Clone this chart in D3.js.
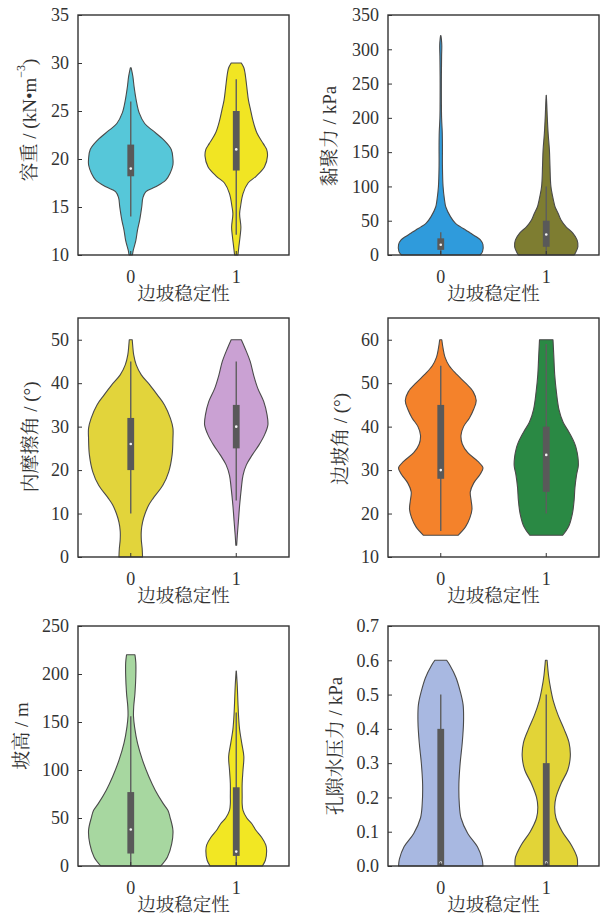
<!DOCTYPE html>
<html>
<head>
<meta charset="utf-8">
<script src="https://cdn.jsdelivr.net/npm/d3@7"></script>
<style>
  body { margin: 0; background: #fff; }
  svg { display: block; }
</style>
</head>
<body>
<svg id="chart" width="602" height="914"></svg>
<script>
// Slope stability (0 = unstable, 1 = stable) on the x axis of every panel
const categories = ["0", "1"];
const xTitle = "边坡稳定性";

// Each violin profile: [value, relative density], density 1 = widest violin of the panel.
// Each box: [lower whisker, Q1, median, Q3, upper whisker].

// 容重 (unit weight)
const unitWeightTicks = [10, 15, 20, 25, 30, 35];
const unitWeightColors = ["#56c7d9", "#f1e523"];
const unitWeight0 = [[10, 0.04], [10.5, 0.06], [11.5, 0.12], [12.6, 0.16], [13.6, 0.21], [15, 0.26], [16, 0.29], [16.6, 0.36], [17.1, 0.59], [17.8, 0.83], [18.5, 0.93], [19.4, 1.0], [20, 1.0], [21, 0.96], [22, 0.78], [23, 0.51], [23.7, 0.33], [24.8, 0.2], [26.1, 0.13], [27.5, 0.08], [28.6, 0.05], [29.5, 0.01]];
const unitWeight1 = [[10, 0.04], [10.8, 0.06], [11.9, 0.09], [12.9, 0.11], [14.3, 0.08], [15, 0.1], [16.4, 0.16], [17.5, 0.28], [18.2, 0.47], [19.2, 0.67], [20.3, 0.74], [21, 0.72], [21.6, 0.64], [22.7, 0.49], [24.1, 0.39], [25.1, 0.34], [26.1, 0.29], [27.5, 0.25], [28.9, 0.21], [29.5, 0.18], [30, 0.12]];
const unitWeightBox0 = [14, 18.2, 19.0, 21.5, 26];
const unitWeightBox1 = [12.1, 18.8, 21.0, 25.0, 28.3];

// 黏聚力 (cohesion)
const cohesionTicks = [0, 50, 100, 150, 200, 250, 300, 350];
const cohesionColors = ["#2f9bdc", "#7e7d31"];
const cohesion0 = [[0, 0.93], [5, 0.99], [15, 1.0], [22, 0.94], [27, 0.83], [32, 0.7], [36.5, 0.59], [41, 0.47], [46, 0.35], [56, 0.23], [70, 0.12], [80, 0.09], [100, 0.055], [130, 0.04], [160, 0.04], [180, 0.035], [200, 0.02], [250, 0.015], [290, 0.02], [305, 0.025], [315, 0.015], [320, 0.004]];
const cohesion1 = [[0, 0.66], [3, 0.69], [12, 0.75], [22, 0.73], [32, 0.63], [41, 0.47], [51, 0.35], [61, 0.28], [70, 0.21], [80, 0.17], [100, 0.11], [130, 0.088], [153, 0.075], [177, 0.045], [200, 0.025], [220, 0.012], [233, 0.002]];
const cohesionBox0 = [0, 7.5, 15, 24.3, 33];
const cohesionBox1 = [0, 12, 30, 50, 100];

// 内摩擦角 (internal friction angle)
const frictionTicks = [0, 10, 20, 30, 40, 50];
const frictionColors = ["#e2d43b", "#caa1d3"];
const friction0 = [[0, 0.28], [2, 0.27], [4, 0.25], [6, 0.25], [8, 0.28], [10, 0.34], [12, 0.43], [13.5, 0.53], [16.5, 0.76], [19.6, 0.9], [23.5, 0.98], [27.3, 1.0], [29.6, 1.0], [31.9, 0.94], [35, 0.8], [37.3, 0.63], [39.6, 0.45], [41.9, 0.25], [44.2, 0.13], [46.5, 0.07], [48.8, 0.045], [50, 0.035]];
const friction1 = [[2.7, 0.01], [5, 0.025], [8.1, 0.05], [11.9, 0.08], [15.8, 0.12], [18.8, 0.16], [21.2, 0.24], [23.5, 0.38], [25.8, 0.54], [28.1, 0.67], [30.4, 0.75], [32.7, 0.73], [35.8, 0.65], [38.8, 0.51], [41.9, 0.41], [45, 0.33], [48, 0.21], [50, 0.12]];
const frictionBox0 = [10, 20, 26, 32, 45];
const frictionBox1 = [13, 25, 30, 35, 45];

// 边坡角 (slope angle)
const slopeAngleTicks = [10, 20, 30, 40, 50, 60];
const slopeAngleColors = ["#f4822b", "#2a8944"];
const slopeAngle0 = [[15, 0.41], [17, 0.59], [19, 0.69], [21, 0.74], [23, 0.72], [25, 0.7], [27, 0.78], [29, 0.93], [30.5, 1.0], [32, 0.88], [34, 0.64], [36, 0.51], [38, 0.48], [40, 0.54], [42, 0.68], [44, 0.78], [46, 0.84], [48, 0.77], [50, 0.59], [52, 0.38], [54, 0.2], [56, 0.1], [58, 0.055], [60, 0.025]];
const slopeAngle1 = [[15, 0.39], [17, 0.53], [20, 0.62], [23, 0.66], [26, 0.68], [29, 0.72], [31, 0.76], [33, 0.75], [35, 0.71], [36.2, 0.67], [38, 0.58], [39.2, 0.51], [41, 0.4], [44, 0.3], [48, 0.24], [52, 0.2], [56, 0.18], [60, 0.16]];
const slopeAngleBox0 = [16, 28, 30, 45, 54];
const slopeAngleBox1 = [20, 25, 33.5, 40, 59];

// 坡高 (slope height)
const heightTicks = [0, 50, 100, 150, 200, 250];
const heightColors = ["#a7d7a0", "#f2e723"];
const height0 = [[0, 0.71], [9.4, 0.87], [23, 0.97], [37, 1.0], [51, 0.93], [58, 0.88], [65, 0.77], [79, 0.58], [93, 0.43], [110, 0.28], [128, 0.16], [145, 0.09], [156, 0.065], [166, 0.07], [180, 0.1], [198, 0.12], [212, 0.12], [220, 0.1]];
const height1 = [[0, 0.62], [6, 0.69], [16, 0.72], [22, 0.7], [30, 0.6], [37, 0.47], [44, 0.37], [50, 0.25], [58, 0.16], [65, 0.14], [72, 0.14], [86, 0.14], [100, 0.16], [114, 0.18], [128, 0.13], [142, 0.08], [156, 0.055], [170, 0.04], [187, 0.025], [203, 0.003]];
const heightBox0 = [0, 13, 38, 77, 156];
const heightBox1 = [0, 10.5, 15, 82, 160];

// 孔隙水压力 (pore water pressure)
const poreTicks = [0, 0.1, 0.2, 0.3, 0.4, 0.5, 0.6, 0.7];
const poreColors = ["#a8b8e1", "#e2d437"];
const pore0 = [[0, 1.0], [0.02, 0.98], [0.056, 0.87], [0.095, 0.64], [0.14, 0.48], [0.18, 0.44], [0.24, 0.43], [0.3, 0.46], [0.36, 0.51], [0.42, 0.54], [0.47, 0.53], [0.51, 0.46], [0.55, 0.36], [0.585, 0.22], [0.6, 0.14]];
const pore1 = [[0, 0.74], [0.025, 0.73], [0.06, 0.6], [0.1, 0.38], [0.14, 0.23], [0.172, 0.2], [0.2, 0.23], [0.24, 0.35], [0.28, 0.51], [0.32, 0.57], [0.36, 0.54], [0.4, 0.42], [0.44, 0.28], [0.48, 0.17], [0.52, 0.1], [0.555, 0.055], [0.6, 0.02]];
const poreBox0 = [0, 0, 0.01, 0.4, 0.5];
const poreBox1 = [0, 0, 0.01, 0.3, 0.5];

// ---- layout ----
const colLeft = [78, 388];
const plotW = 211;
const rowSpan = [[15, 255], [318, 557], [626, 866]];
const serif = "'Liberation Serif', 'Noto Sans CJK SC', serif";
const cjk = "'Liberation Serif', 'Noto Serif CJK SC', 'Noto Sans CJK SC', sans-serif";
const textColor = "#333";

const panels = [
  { title: ["容重 / (kN•m", "−3", ")"], domain: [10, 35], ticks: unitWeightTicks, fmt: d3.format("d"),
    colors: unitWeightColors, profiles: [unitWeight0, unitWeight1], boxes: [unitWeightBox0, unitWeightBox1],
    col: 0, row: 0, titlePos: [29, 120] },
  { title: ["黏聚力 / kPa"], domain: [0, 350], ticks: cohesionTicks, fmt: d3.format("d"),
    colors: cohesionColors, profiles: [cohesion0, cohesion1], boxes: [cohesionBox0, cohesionBox1],
    col: 1, row: 0, titlePos: [329, 136] },
  { title: ["内摩擦角 / (°)"], domain: [0, 55], ticks: frictionTicks, fmt: d3.format("d"),
    colors: frictionColors, profiles: [friction0, friction1], boxes: [frictionBox0, frictionBox1],
    col: 0, row: 1, titlePos: [30, 437] },
  { title: ["边坡角 / (°)"], domain: [10, 65], ticks: slopeAngleTicks, fmt: d3.format("d"),
    colors: slopeAngleColors, profiles: [slopeAngle0, slopeAngle1], boxes: [slopeAngleBox0, slopeAngleBox1],
    col: 1, row: 1, titlePos: [340, 439] },
  { title: ["坡高 / m"], domain: [0, 250], ticks: heightTicks, fmt: d3.format("d"),
    colors: heightColors, profiles: [height0, height1], boxes: [heightBox0, heightBox1],
    col: 0, row: 2, titlePos: [21, 736] },
  { title: ["孔隙水压力 / kPa"], domain: [0, 0.7], ticks: poreTicks, fmt: d3.format(".1f"),
    colors: poreColors, profiles: [pore0, pore1], boxes: [poreBox0, poreBox1],
    col: 1, row: 2, titlePos: [335, 746] }
];

const svg = d3.select("#chart");

panels.forEach(p => {
  const left = colLeft[p.col], right = left + plotW;
  const [top, bottom] = rowSpan[p.row];
  const x = d3.scaleBand().domain(categories).range([left, right]);
  const y = d3.scaleLinear().domain(p.domain).range([bottom, top]);
  const w = d3.scaleLinear().domain([0, 1]).range([0, x.bandwidth() * 0.4]);
  const g = svg.append("g");

  categories.forEach((c, i) => {
    const cx = x(c) + x.bandwidth() / 2;
    const area = d3.area()
      .y(d => y(d[0]))
      .x0(d => cx - w(d[1]))
      .x1(d => cx + w(d[1]))
      .curve(d3.curveCatmullRom.alpha(0.5));
    g.append("path")
      .attr("d", area(p.profiles[i]))
      .attr("fill", p.colors[i])
      .attr("stroke", "#4a4a4a")
      .attr("stroke-width", 1.1)
      .attr("stroke-linejoin", "round");

    const [wlo, q1, med, q3, whi] = p.boxes[i];
    g.append("line")
      .attr("x1", cx).attr("x2", cx)
      .attr("y1", y(wlo)).attr("y2", y(whi))
      .attr("stroke", "#5e5e5e").attr("stroke-width", 1.4);
    g.append("rect")
      .attr("x", cx - 3.4).attr("width", 6.8)
      .attr("y", y(q3)).attr("height", Math.max(0, y(q1) - y(q3)))
      .attr("fill", "#595959");
    g.append("circle")
      .attr("cx", cx).attr("cy", y(med)).attr("r", 1.3)
      .attr("fill", "#f4f4f4");
  });

  // y axis with inward ticks
  const ya = g.append("g")
    .attr("transform", `translate(${left},0)`)
    .call(d3.axisLeft(y).tickValues(p.ticks).tickFormat(p.fmt)
      .tickSizeInner(-4).tickSizeOuter(0).tickPadding(9));
  ya.select(".domain").remove();
  ya.selectAll("line").attr("stroke", "#333").attr("stroke-width", 1);
  ya.selectAll("text").attr("font-family", serif).attr("font-size", 18).attr("fill", textColor);

  // x axis with inward ticks
  const xa = g.append("g")
    .attr("transform", `translate(0,${bottom})`)
    .call(d3.axisBottom(x).tickSizeInner(-4).tickSizeOuter(0).tickPadding(15));
  xa.select(".domain").remove();
  xa.selectAll("line").attr("stroke", "#333").attr("stroke-width", 1);
  xa.selectAll("text").attr("font-family", serif).attr("font-size", 18).attr("fill", textColor);

  // frame
  g.append("rect")
    .attr("x", left).attr("y", top)
    .attr("width", plotW).attr("height", bottom - top)
    .attr("fill", "none").attr("stroke", "#333").attr("stroke-width", 1.4);

  // x title
  g.append("text")
    .attr("x", (left + right) / 2).attr("y", bottom + 39)
    .attr("text-anchor", "middle")
    .attr("dominant-baseline", "central")
    .attr("font-family", cjk).attr("font-size", 18.5).attr("fill", textColor)
    .text(xTitle);

  // y title (rotated)
  const t = g.append("text")
    .attr("transform", `translate(${p.titlePos[0]},${p.titlePos[1]}) rotate(-90)`)
    .attr("text-anchor", "middle")
    .attr("dominant-baseline", "central")
    .attr("font-family", cjk).attr("font-size", 19).attr("fill", textColor);
  t.append("tspan").text(p.title[0]);
  if (p.title.length > 1) {
    t.append("tspan").attr("font-size", 12).attr("dy", -8).text(p.title[1]);
    t.append("tspan").attr("dy", 8).text(p.title[2]);
  }
});
</script>
</body>
</html>
